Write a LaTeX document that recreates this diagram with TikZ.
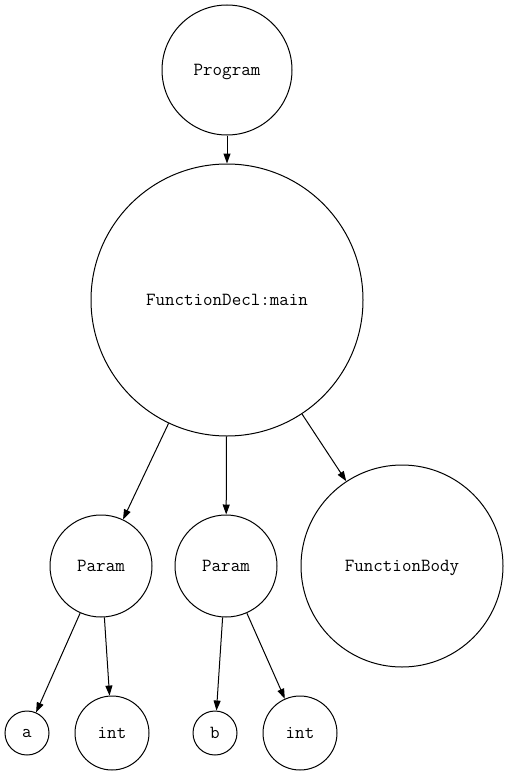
\documentclass[tikz,border=0pt]{standalone}
\usetikzlibrary{arrows.meta}

\begin{document}
\begin{tikzpicture}[x=1pt,y=-1pt,
	nd/.style={circle,draw,line width=1pt,inner sep=0,minimum size=#1,text depth=0pt,font=\ttfamily\fontsize{18.5}{20}\selectfont},
	lnk/.style={-{Triangle[length=10pt,width=7pt]},line width=1pt},
]
\useasboundingbox (0,0) rectangle (509,776);
\node[nd=130pt] (prog) at (227,70) {Program};
\node[nd=272pt] (decl) at (227,300) {FunctionDecl:main};
\node[nd=102pt] (parA) at (101,566) {Param};
\node[nd=102pt] (parB) at (226,566) {Param};
\node[nd=202pt] (body) at (402,566) {FunctionBody};
\node[nd=44pt] (nmA) at (27,733) {a};
\node[nd=74pt] (tyA) at (112,733) {int};
\node[nd=44pt] (nmB) at (215,733) {b};
\node[nd=74pt] (tyB) at (300,733) {int};
\foreach \s/\t in {prog/decl,decl/parA,decl/parB,decl/body,parA/nmA,parA/tyA,parB/nmB,parB/tyB}
	\draw[lnk] (\s) -- (\t);
\end{tikzpicture}
\end{document}
